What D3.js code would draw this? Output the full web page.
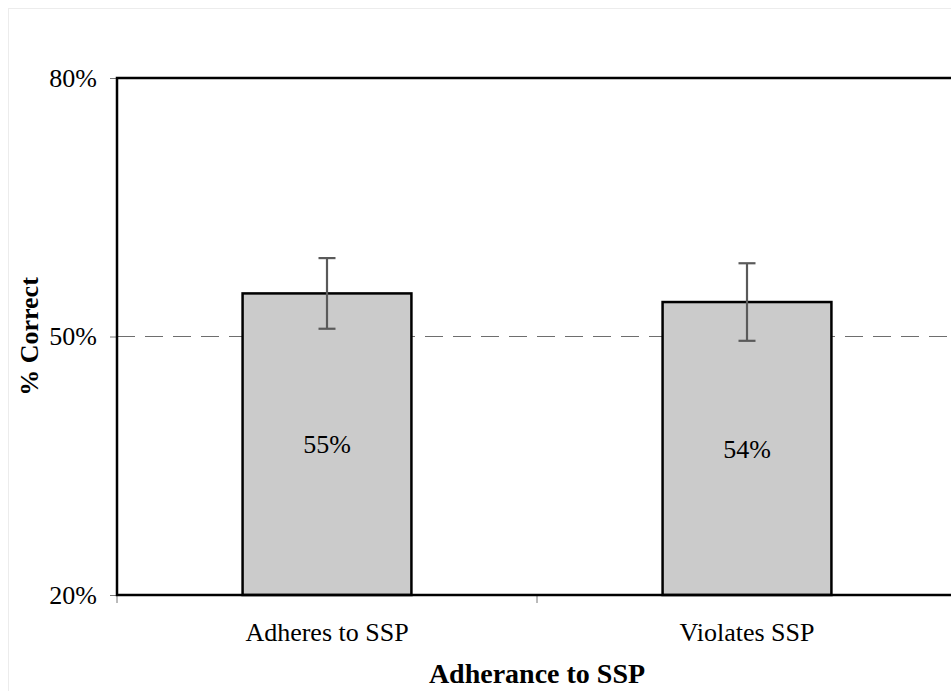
<!DOCTYPE html>
<html>
<head>
<meta charset="utf-8">
<script src="https://cdn.jsdelivr.net/npm/d3@7"></script>
<style>
  html, body { margin: 0; padding: 0; background: #fff; }
  svg { display: block; }
</style>
</head>
<body>
<svg id="chart" width="951" height="691" font-family="Liberation Serif, Times New Roman, serif"></svg>
<script>
// Percent correct by adherence condition
const categories = ["Adheres to SSP", "Violates SSP"];
const values = [55, 54];          // mean % correct
const errors = [4.1, 4.5];        // error bar half-length (percentage points)
const yTicks = [20, 50, 80];
const chanceLevel = 50;
const xTitle = "Adherance to SSP";
const yTitle = "% Correct";

const SERIF = "Liberation Serif, Times New Roman, serif";
const svg = d3.select("#chart");

// Light outer frame of the figure
svg.append("rect")
  .attr("x", 8.5).attr("y", 8.5)
  .attr("width", 1000).attr("height", 1000)
  .attr("fill", "none").attr("stroke", "#ececec").attr("stroke-width", 1);

const plot = { left: 117, right: 957, top: 78, bottom: 595 };

const x = d3.scaleBand()
  .domain(categories)
  .range([plot.left, plot.right])
  .padding(0);

const y = d3.scaleLinear()
  .domain([20, 80])
  .range([plot.bottom, plot.top]);

const barWidth = x.bandwidth() * 0.402;

// Chance line at 50%
svg.append("line")
  .attr("x1", plot.left).attr("x2", plot.right)
  .attr("y1", y(chanceLevel)).attr("y2", y(chanceLevel))
  .attr("stroke", "#6e6e6e").attr("stroke-width", 1)
  .attr("stroke-dasharray", "18,10");

// Bars
svg.append("g").selectAll("rect")
  .data(categories)
  .join("rect")
  .attr("x", (d) => x(d) + (x.bandwidth() - barWidth) / 2)
  .attr("y", (d, i) => y(values[i]))
  .attr("width", barWidth)
  .attr("height", (d, i) => y(20) - y(values[i]))
  .attr("fill", "#cbcbcb")
  .attr("stroke", "#000")
  .attr("stroke-width", 2.5);

// Error bars
const eb = svg.append("g")
  .attr("stroke", "#5a5a5a")
  .attr("stroke-width", 2.2);
categories.forEach((c, i) => {
  const cx = x(c) + x.bandwidth() / 2;
  const top = y(values[i] + errors[i]);
  const bot = y(values[i] - errors[i]);
  eb.append("line").attr("x1", cx).attr("x2", cx).attr("y1", top).attr("y2", bot);
  eb.append("line").attr("x1", cx - 8.5).attr("x2", cx + 8.5).attr("y1", top).attr("y2", top);
  eb.append("line").attr("x1", cx - 8.5).attr("x2", cx + 8.5).attr("y1", bot).attr("y2", bot);
});

// Value labels centred inside bars
svg.append("g").selectAll("text")
  .data(categories)
  .join("text")
  .attr("x", (d) => x(d) + x.bandwidth() / 2)
  .attr("y", (d, i) => (y(values[i]) + y(20)) / 2 + 9)
  .attr("text-anchor", "middle")
  .attr("font-family", SERIF)
  .attr("font-size", 26)
  .attr("fill", "#000")
  .text((d, i) => values[i] + "%");

// Y axis
const yAxis = svg.append("g")
  .attr("transform", `translate(${plot.left},0)`)
  .call(d3.axisLeft(y).tickValues(yTicks).tickFormat((d) => d + "%").tickSize(7).tickPadding(13));
yAxis.select(".domain").remove();
yAxis.selectAll(".tick line").attr("stroke", "#777").attr("stroke-width", 1);
yAxis.selectAll(".tick text")
  .attr("font-family", SERIF)
  .attr("font-size", 26)
  .attr("fill", "#000");

// X axis: category labels with boundary ticks
const xAxis = svg.append("g")
  .attr("transform", `translate(0,${plot.bottom})`)
  .call(d3.axisBottom(x).tickSize(0).tickPadding(28));
xAxis.select(".domain").remove();
xAxis.selectAll(".tick text")
  .attr("font-family", SERIF)
  .attr("font-size", 26)
  .attr("fill", "#000");
svg.append("g").selectAll("line")
  .data(categories.concat([null]))
  .join("line")
  .attr("x1", (d, i) => plot.left + i * x.step())
  .attr("x2", (d, i) => plot.left + i * x.step())
  .attr("y1", plot.bottom)
  .attr("y2", plot.bottom + 8)
  .attr("stroke", "#777").attr("stroke-width", 1);

// Plot frame
svg.append("rect")
  .attr("x", plot.left).attr("y", plot.top)
  .attr("width", plot.right - plot.left).attr("height", plot.bottom - plot.top)
  .attr("fill", "none").attr("stroke", "#000").attr("stroke-width", 2.5);

// Axis titles
svg.append("text")
  .attr("x", (plot.left + plot.right) / 2)
  .attr("y", 683)
  .attr("text-anchor", "middle")
  .attr("font-family", SERIF)
  .attr("font-size", 28)
  .attr("font-weight", "bold")
  .text(xTitle);

svg.append("text")
  .attr("transform", `translate(38,${(plot.top + plot.bottom) / 2}) rotate(-90)`)
  .attr("text-anchor", "middle")
  .attr("font-family", SERIF)
  .attr("font-size", 26)
  .attr("font-weight", "bold")
  .text(yTitle);
</script>
</body>
</html>
